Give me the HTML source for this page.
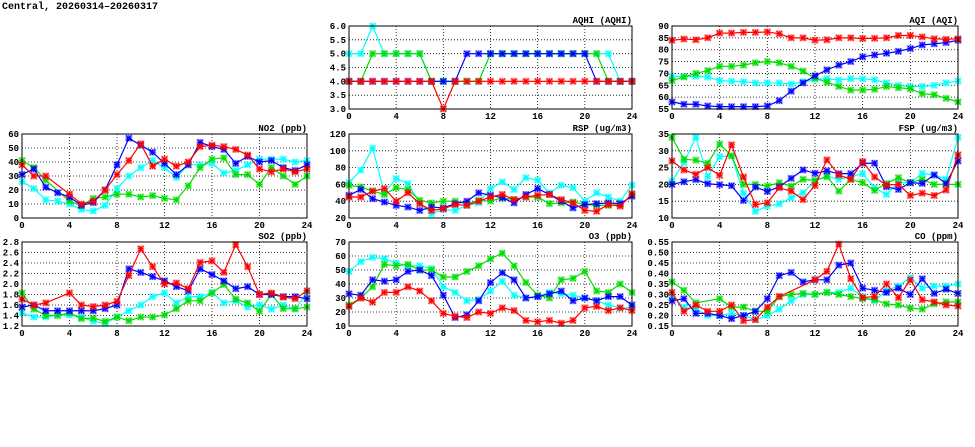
<!DOCTYPE html>
<html><head><meta charset="utf-8">
<style>
body{margin:0;background:#fff;width:975px;height:447px;overflow:hidden}
svg{display:block;font-family:"Liberation Mono",monospace;font-weight:bold}
</style></head>
<body>
<svg id="chart" width="975" height="447" viewBox="0 0 975 447">
<text x="2" y="9" font-size="10">Central, 20260314–20260317</text>
</svg>
<script>
const hours = [0,1,2,3,4,5,6,7,8,9,10,11,12,13,14,15,16,17,18,19,20,21,22,23,24];
const xTicks = [0,4,8,12,16,20,24];
const seriesColors = ["#00ffff","#00dd00","#0000ff","#ff0000"];
const seriesNames = ["cyan","green","blue","red"];

const no2Cyan  = [26,21,13,12,10,6,5,9,21,30,36,41,36,29,38,38,39,32,34,38,42,42,42,40,41];
const no2Green = [41,36,27,null,12,9,14,15,17,17,15,16,14,13,23,36,42,43,31,31,24,36,30,24,30];
const no2Blue  = [31,35,22,18,15,9,11,20,38,57,52,47,39,31,38,54,51,49,39,44,40,41,36,34,38];
const no2Red   = [38,30,30,null,17,10,12,20,31,41,53,37,42,37,40,51,52,51,49,45,35,33,35,33,35];
const no2Ticks = [0,10,20,30,40,50,60];

const so2Cyan  = [1.45,1.37,1.37,1.41,1.41,1.37,1.29,1.25,1.37,1.49,1.6,1.76,1.83,1.64,1.76,1.76,1.84,1.64,1.68,1.56,1.6,1.52,1.6,1.52,1.83];
const so2Green = [1.83,1.52,1.4,1.4,1.45,1.34,1.35,1.29,1.37,1.3,1.37,1.37,1.41,1.53,1.68,1.68,1.83,1.99,1.71,1.64,1.48,1.8,1.53,1.53,1.56];
const so2Blue  = [1.56,1.6,1.49,1.49,1.49,1.49,1.49,1.53,1.6,2.29,2.22,2.14,2.06,1.95,1.87,2.29,2.18,2.06,1.91,1.95,1.8,1.8,1.76,1.76,1.72];
const so2Red   = [1.71,1.6,1.64,null,1.83,1.6,1.57,1.6,1.67,2.16,2.67,2.33,2.0,2.02,1.91,2.41,2.44,2.22,2.75,2.33,1.8,1.83,1.75,1.72,1.87];
const so2Ticks = [1.2,1.4,1.6,1.8,2.0,2.2,2.4,2.6,2.8];

const aqhiCyan  = [5,5,6,5,5,5,5,4,4,4,4,4,5,5,5,5,5,5,5,5,5,5,5,4,4];
const aqhiGreen = [4,4,5,5,5,5,5,4,4,4,4,4,5,5,5,5,5,5,5,5,5,5,4,4,4];
const aqhiBlue  = [4,4,4,4,4,4,4,4,4,4,5,5,5,5,5,5,5,5,5,5,5,4,4,4,4];
const aqhiRed   = [4,4,4,4,4,4,4,4,3,4,4,4,4,4,4,4,4,4,4,4,4,4,4,4,4];
const aqhiTicks = [3.0,3.5,4.0,4.5,5.0,5.5,6.0];

const rspCyan  = [62,77,103,50,67,61,38,25,30,29,35,38,55,63,54,68,65,50,59,56,40,50,45,40,59];
const rspGreen = [59,57,52,48,56,54,41,38,40,40,37,41,40,44,42,45,45,37,38,39,36,35,35,36,47];
const rspBlue  = [47,54,43,39,35,33,29,33,32,37,40,50,47,44,38,48,55,48,40,32,36,37,38,37,46];
const rspRed   = [45,45,52,55,40,50,37,29,31,36,35,40,45,48,42,45,47,48,42,38,29,28,36,34,49];
const rspTicks = [20,40,60,80,100,120];

const o3Cyan  = [49,56,59,58,55,53,53,51,38,34,28,29,35,42,32,30,31,34,33,32,30,28,25,23,23];
const o3Green = [25,30,38,54,53,54,50,50,45,45,49,53,58,62,53,41,32,30,43,44,49,35,34,40,34];
const o3Blue  = [33,32,43,42,43,49,50,46,32,16,18,28,41,48,43,30,31,33,35,28,30,28,31,31,25];
const o3Red   = [24,30,27,34,34,38,35,28,19,17,16,20,19,23,21,14,13,14,12,14,23,24,21,23,21];
const o3Ticks = [10,20,30,40,50,60,70];

const aqiCyan  = [68.8,68.7,68.8,68.5,67,66.7,66.5,66,66,66,65.5,66.5,67.5,67.8,67.2,67.8,67.7,67.3,66,65,64.5,64.5,65,66,66.8];
const aqiGreen = [67,68.5,70,71.2,73,73,73.5,74.5,75,74.5,73,71,68,66.3,64.5,63,63,63.3,64.5,64,63.5,61.5,61,59.5,58];
const aqiBlue  = [58,57,57,56.3,56,56,56,56,56.3,58.5,62.5,66,69,71.5,73.5,75,77,77.8,78.5,79.3,80.5,82,82.5,83,84];
const aqiRed   = [84,84.5,84.2,85,87,87,87.3,87.3,87.5,86.7,85,85,84,84.2,85,85,84.7,84.8,85,86,86,85.4,84.6,84.4,84.6];
const aqiTicks = [55,60,65,70,75,80,85,90];

const fspCyan  = [21,26.5,34,22.3,28.3,28.5,17.3,12,13.5,14.2,16,17.5,21,22.5,21.5,22.3,23.2,19,17,20.5,20.5,23.3,22.8,21.5,34];
const fspGreen = [34,27.5,27.2,26.3,32,28.5,20,20,19.5,20.5,19.5,21.5,21.2,22.3,18,21.5,20.5,18.2,20.3,22,20.5,21.5,20,20,20];
const fspBlue  = [20,20.8,21.4,20.2,19.9,19.6,15.2,19.2,17.9,19.3,21.8,24.3,23.3,24,23.2,23.2,26.3,26.3,19.3,18.5,20.5,20.3,22.8,20.3,27];
const fspRed   = [27,24.3,23,25,22.7,31.8,22.2,14,14.5,19,18,15.5,19.7,27.3,22.8,21.5,26.8,22.2,19.8,20,16.7,17.4,16.7,18.3,28.8];
const fspTicks = [10,15,20,25,30,35];

const coCyan  = [0.29,0.24,0.23,0.20,0.20,0.21,0.20,0.18,0.20,0.23,0.27,0.30,0.30,0.31,0.31,0.33,0.29,0.27,0.32,0.34,0.38,0.33,0.34,0.34,0.35];
const coGreen = [0.36,0.32,0.26,null,0.28,0.24,0.24,0.22,0.22,0.29,0.30,0.305,0.30,0.31,0.30,0.29,0.28,0.275,0.255,0.25,0.235,0.23,0.255,0.265,0.265];
const coBlue  = [0.27,0.28,0.21,0.21,0.20,0.185,0.20,0.22,0.28,0.39,0.405,0.36,0.37,0.37,0.44,0.45,0.33,0.32,0.31,0.33,0.30,0.375,0.305,0.325,0.305];
const coRed   = [0.31,0.22,0.25,0.22,0.22,0.25,0.175,0.18,0.24,0.29,null,null,0.37,0.41,0.54,0.375,0.285,0.29,0.35,0.285,0.37,0.275,0.265,0.25,0.245];
const coTicks = [0.15,0.20,0.25,0.30,0.35,0.40,0.45,0.50,0.55];

const NS="http://www.w3.org/2000/svg";
const svg=document.getElementById('chart');
function mk(tag,attrs,parent){const e=document.createElementNS(NS,tag);for(const k in attrs)e.setAttribute(k,attrs[k]);(parent||svg).appendChild(e);return e;}

function panel(key,title,x0,x1,y0,y1,ticks,dec,series){
  const g=mk('g',{});
  
  
  const yMin=ticks[0],yMax=ticks[ticks.length-1];
  const sx=h=>x0+(h-0)/24*(x1-x0);
  const sy=v=>y1-(v-yMin)/(yMax-yMin)*(y1-y0);
  // grid
  xTicks.forEach(t=>{ if(t>0&&t<24){const l=mk('line',{x1:sx(t),x2:sx(t),y1:y0,y2:y1,stroke:'#000','stroke-width':0.8,'stroke-dasharray':'1,2'},g);
     }
    const tl=mk('text',{x:sx(t),y:y1+10,'font-size':9,'text-anchor':'middle'},g);tl.textContent=t;
     
  });
  ticks.forEach(t=>{ if(t>yMin&&t<yMax){const l=mk('line',{x1:x0,x2:x1,y1:sy(t),y2:sy(t),stroke:'#000','stroke-width':0.8,'stroke-dasharray':'1,2'},g);
     }
    const tl=mk('text',{x:x0-3,y:sy(t)+3,'font-size':9,'text-anchor':'end'},g);tl.textContent=t.toFixed(dec);
     
  });
  const tt=mk('text',{x:x1,y:y0-3,'font-size':9,'text-anchor':'end'},g);tt.textContent=title;
   
  series.forEach((vals,i)=>{
    const c=seriesColors[i];
    const pts=[];vals.forEach((v,h)=>{if(v!==null)pts.push([sx(hours[h]),sy(v)]);});
    const pl=mk('polyline',{points:pts.map(p=>p.join(',')).join(' '),fill:'none',stroke:c,'stroke-width':1.2},g);
     
    pts.forEach(p=>{
      const m=mk('g',{},g);
       
      mk('rect',{x:p[0]-3.5,y:p[1]-3.5,width:7,height:7,fill:c,opacity:0.35},m);
      const d=2.8;
      mk('path',{d:`M${p[0]-d},${p[1]-d}L${p[0]+d},${p[1]+d}M${p[0]-d},${p[1]+d}L${p[0]+d},${p[1]-d}M${p[0]},${p[1]-d}L${p[0]},${p[1]+d}M${p[0]-d},${p[1]}L${p[0]+d},${p[1]}`,stroke:c,'stroke-width':1.1},m);
    });
  });
  const fr=mk('rect',{x:x0,y:y0,width:x1-x0,height:y1-y0,fill:'none',stroke:'#000','stroke-width':1},g);
   
}
const L=[22,307],M=[349,632],R=[672,958];
const r1=[26,109],r2=[134,218],r3=[242,326];
panel('aqhi','AQHI (AQHI)',M[0],M[1],r1[0],r1[1],aqhiTicks,1,[aqhiCyan,aqhiGreen,aqhiBlue,aqhiRed]);
panel('aqi','AQI (AQI)',R[0],R[1],r1[0],r1[1],aqiTicks,0,[aqiCyan,aqiGreen,aqiBlue,aqiRed]);
panel('no2','NO2 (ppb)',L[0],L[1],r2[0],r2[1],no2Ticks,0,[no2Cyan,no2Green,no2Blue,no2Red]);
panel('rsp','RSP (ug/m3)',M[0],M[1],r2[0],r2[1],rspTicks,0,[rspCyan,rspGreen,rspBlue,rspRed]);
panel('fsp','FSP (ug/m3)',R[0],R[1],r2[0],r2[1],fspTicks,0,[fspCyan,fspGreen,fspBlue,fspRed]);
panel('so2','SO2 (ppb)',L[0],L[1],r3[0],r3[1],so2Ticks,1,[so2Cyan,so2Green,so2Blue,so2Red]);
panel('o3','O3 (ppb)',M[0],M[1],r3[0],r3[1],o3Ticks,0,[o3Cyan,o3Green,o3Blue,o3Red]);
panel('co','CO (ppm)',R[0],R[1],r3[0],r3[1],coTicks,2,[coCyan,coGreen,coBlue,coRed]);
</script>
</body></html>
